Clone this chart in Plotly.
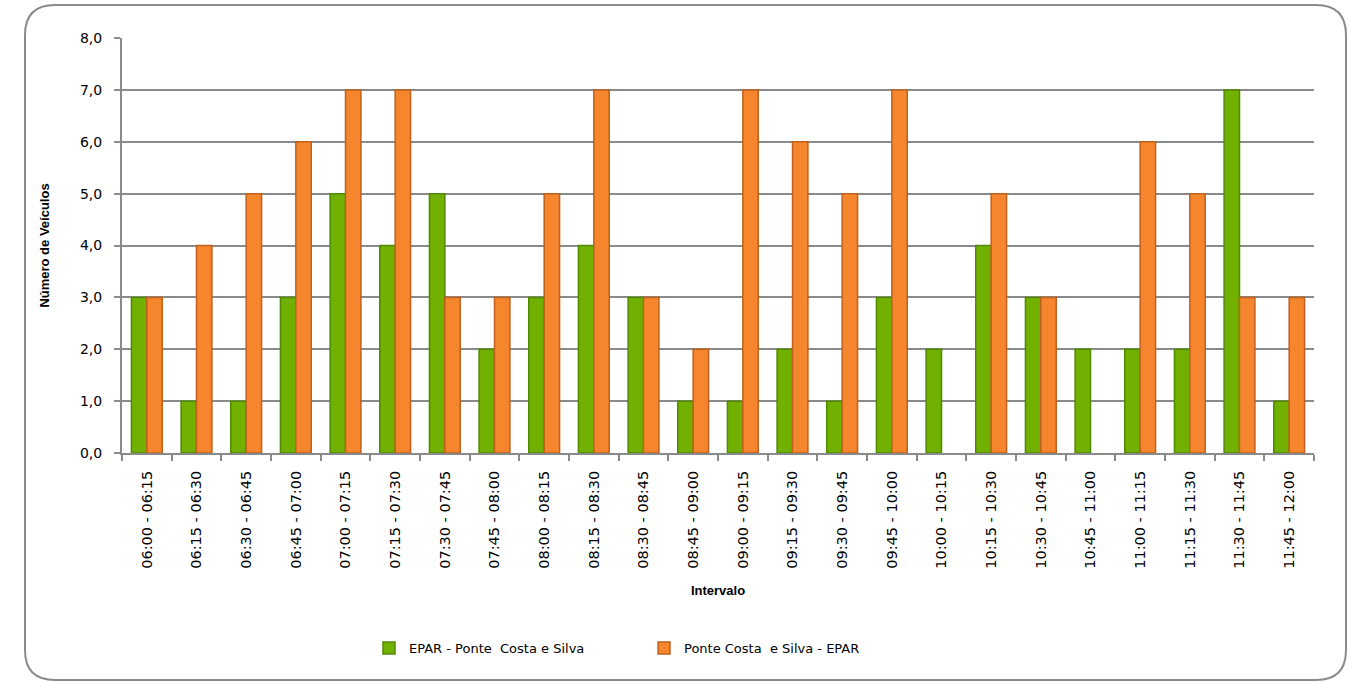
import plotly.graph_objects as go

categories = ["06:00 - 06:15", "06:15 - 06:30", "06:30 - 06:45", "06:45 - 07:00",
              "07:00 - 07:15", "07:15 - 07:30", "07:30 - 07:45", "07:45 - 08:00",
              "08:00 - 08:15", "08:15 - 08:30", "08:30 - 08:45", "08:45 - 09:00",
              "09:00 - 09:15", "09:15 - 09:30", "09:30 - 09:45", "09:45 - 10:00",
              "10:00 - 10:15", "10:15 - 10:30", "10:30 - 10:45", "10:45 - 11:00",
              "11:00 - 11:15", "11:15 - 11:30", "11:30 - 11:45", "11:45 - 12:00"]
epar_ponte = [3, 1, 1, 3, 5, 4, 5, 2, 3, 4, 3, 1, 1, 2, 1, 3, 2, 4, 3, 2, 2, 2, 7, 1]
ponte_epar = [3, 4, 5, 6, 7, 7, 3, 3, 5, 7, 3, 2, 7, 6, 5, 7, 0, 5, 3, 0, 6, 5, 3, 3]
name_a = "EPAR - Ponte  Costa e Silva"
name_b = "Ponte Costa  e Silva - EPAR"
y_ticks = [0, 1, 2, 3, 4, 5, 6, 7, 8]

W, H = 1351, 683
L, R, T, B = 122, 37, 38, 230
pw, ph = W - L - R, H - T - B

fig = go.Figure()
fig.add_trace(go.Bar(x=categories, y=epar_ponte, name=name_a,
                     marker=dict(color="#72b000",
                                 line=dict(color="#4f8a00",
                                           width=[1.5 if v else 0 for v in epar_ponte]))))
fig.add_trace(go.Bar(x=categories, y=ponte_epar, name=name_b,
                     marker=dict(color="#f5862e",
                                 line=dict(color="#c0601c",
                                           width=[1.5 if v else 0 for v in ponte_epar]))))

def P(x, y):
    return f"{(x - L) / pw:.5f},{(H - B - y) / ph:.5f}"

# rounded border
x0, y0, x1, y1, r = 25, 5, 1346, 680, 30
path = (f"M {P(x0+r, y0)} L {P(x1-r, y0)} Q {P(x1, y0)} {P(x1, y0+r)} "
        f"L {P(x1, y1-r)} Q {P(x1, y1)} {P(x1-r, y1)} "
        f"L {P(x0+r, y1)} Q {P(x0, y1)} {P(x0, y1-r)} "
        f"L {P(x0, y0+r)} Q {P(x0, y0)} {P(x0+r, y0)} Z")
fig.add_shape(type="path", path=path, xref="paper", yref="paper",
              line=dict(color="#8a8a8a", width=2), layer="below")

font_main = "Century Gothic, URW Gothic, DejaVu Sans, sans-serif"
font_bold = "Arial, Liberation Sans, sans-serif"

fig.update_layout(
    width=W, height=H,
    margin=dict(l=L, r=R, t=T, b=B, autoexpand=False),
    paper_bgcolor="white", plot_bgcolor="white",
    separators=",.",
    barmode="group", bargap=0.38, bargroupgap=0.0,
    font=dict(family=font_main, color="#000000", size=12),
    xaxis=dict(
        type="category", tickangle=-90, tickson="boundaries",
        ticks="outside", ticklen=6, tickcolor="#8a8a8a", tickwidth=1.5,
        showline=True, linecolor="#8a8a8a", linewidth=2,
        showgrid=False, tickfont=dict(size=14.5, family=font_main),
        ticklabelstandoff=10,
        title=dict(text="<b>Intervalo</b>", font=dict(family=font_bold, size=13), standoff=18),
    ),
    yaxis=dict(
        range=[0, 8], tickvals=y_ticks, tickformat=".1f",
        ticks="outside", ticklen=6, tickcolor="#8a8a8a", tickwidth=1.5,
        showline=True, linecolor="#8a8a8a", linewidth=2,
        showgrid=True, gridcolor="#8a8a8a", gridwidth=2,
        zeroline=False, tickfont=dict(size=14, family=font_main),
        ticklabelstandoff=9,
        title=dict(text="<b>Número de Veículos</b>", font=dict(family=font_bold, size=13), standoff=27),
    ),
    legend=dict(orientation="h", x=(369 - L) / pw, xanchor="left",
                y=(H - B - 648) / ph, yanchor="middle",
                entrywidth=230, entrywidthmode="pixels",
                font=dict(size=13, family=font_main), itemwidth=30,
                bgcolor="rgba(0,0,0,0)"),
    showlegend=True,
)

fig.write_html("out.html", config={"displayModeBar": False},
               post_script="document.body.style.margin='0';")
